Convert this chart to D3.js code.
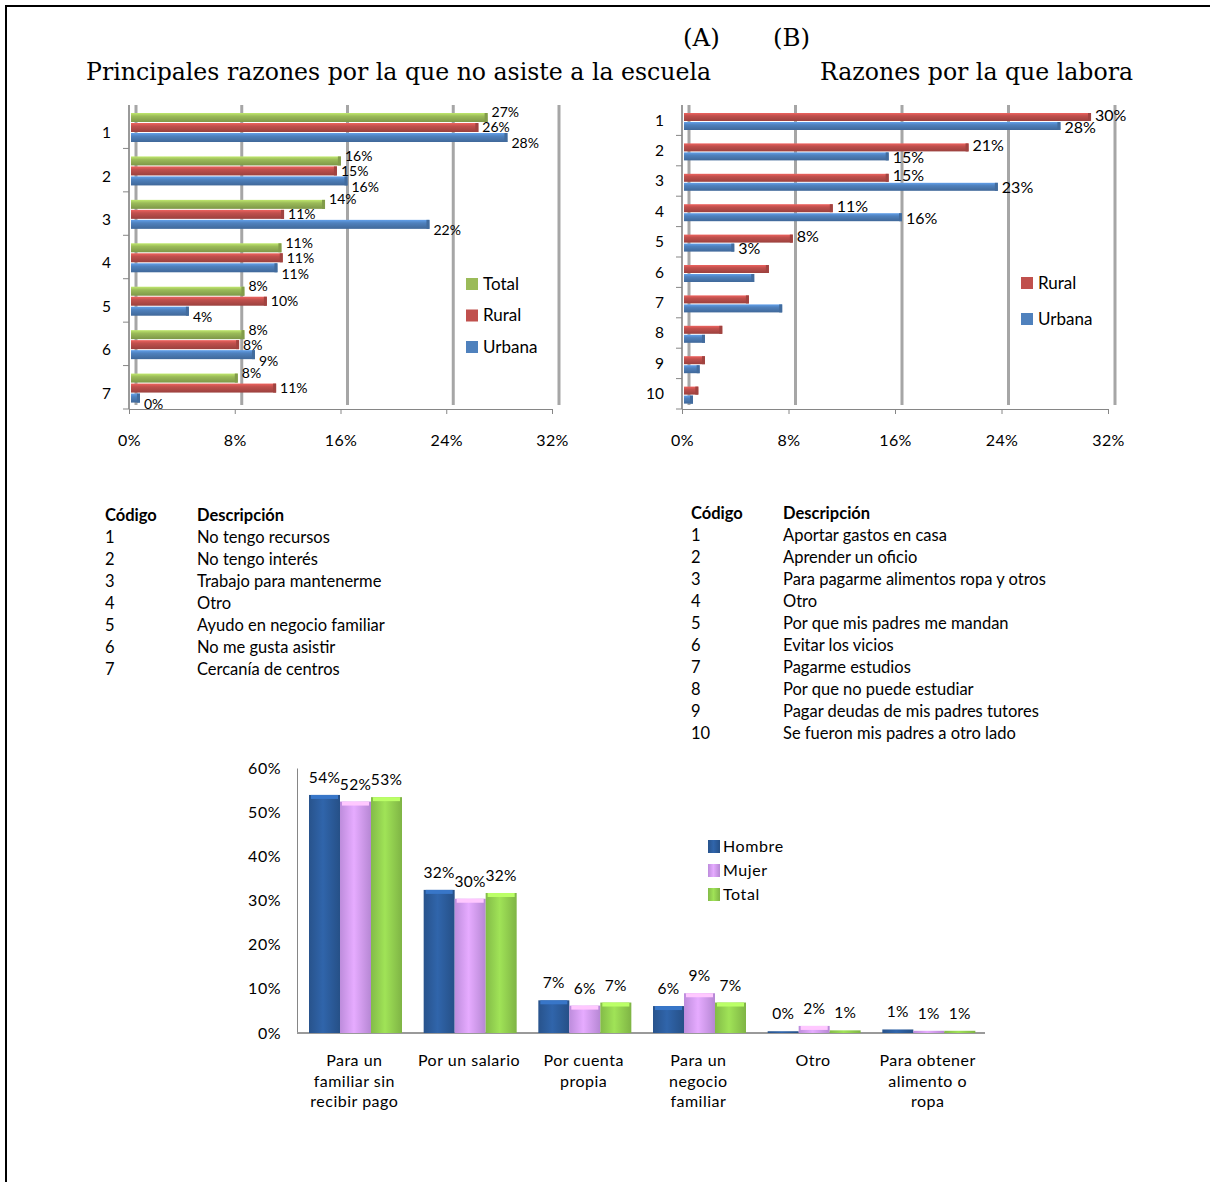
<!DOCTYPE html>
<html>
<head>
<meta charset="utf-8">
<script src="https://cdn.jsdelivr.net/npm/d3@7"></script>
<style>
	body { margin: 0; background: #fff; }
	text { font-family: Lato, "Open Sans", sans-serif; fill: #000; }
	.serif { font-family: "DejaVu Serif", serif; }
</style>
</head>
<body>
<div id="page"></div>
<script>
// chart A: razones por la que no asiste a la escuela
const codesA = ["1", "2", "3", "4", "5", "6", "7"];
const totalA = [26.6, 15.5, 14.3, 11.0, 8.2, 8.2, 7.7];
const ruralA = [25.9, 15.2, 11.2, 11.1, 9.9, 7.8, 10.6];
const urbanaA = [28.1, 16.0, 22.2, 10.7, 4.0, 9.0, 0.3];

// chart B: razones por la que labora
const codesB = ["1", "2", "3", "4", "5", "6", "7", "8", "9", "10"];
const ruralB = [30.2, 21.0, 15.0, 10.8, 7.8, 6.0, 4.5, 2.5, 1.2, 0.7];
const urbanaB = [27.9, 15.0, 23.2, 16.0, 3.4, 4.9, 7.0, 1.2, 0.8, 0.3];
const labeledB = 5;

const pctTicks = [0, 8, 16, 24, 32];

const descA = ["No tengo recursos", "No tengo interés", "Trabajo para mantenerme", "Otro",
	"Ayudo en negocio familiar", "No me gusta asistir", "Cercanía de centros"];
const descB = ["Aportar gastos en casa", "Aprender un oficio", "Para pagarme alimentos ropa y otros",
	"Otro", "Por que mis padres me mandan", "Evitar los vicios", "Pagarme estudios",
	"Por que no puede estudiar", "Pagar deudas de mis padres tutores", "Se fueron mis padres a otro lado"];

// chart C: para quien trabaja
const categoriesC = [
	["Para un", "familiar sin", "recibir pago"],
	["Por un salario"],
	["Por cuenta", "propia"],
	["Para un", "negocio", "familiar"],
	["Otro"],
	["Para obtener", "alimento o", "ropa"],
];
const hombreC = [53.9, 32.4, 7.4, 6.1, 0.4, 0.8];
const mujerC = [52.4, 30.4, 6.2, 9.0, 1.6, 0.5];
const totalC = [53.4, 31.7, 6.9, 6.9, 0.6, 0.5];
const ticksC = [0, 10, 20, 30, 40, 50, 60];

const colors = {
	Total: "#9BBB59", Rural: "#C0504D", Urbana: "#4F81BD",
	Hombre: "#2C5C9C", Mujer: "#D29CF5", TotalC: "#92D050",
};

const svg = d3
	.select("#page")
	.append("svg")
	.attr("width", 1210)
	.attr("height", 1182);

svg.append("rect").attr("width", 1210).attr("height", 1182).attr("fill", "#fff");

// page frame
svg.append("path")
	.attr("d", "M6,1182 V6 H1210")
	.attr("fill", "none")
	.attr("stroke", "#000")
	.attr("stroke-width", 2);

const defs = svg.append("defs");

function hGradient(id, c) {
	const base = d3.color(c);
	const g = defs.append("linearGradient").attr("id", id)
		.attr("x1", 0).attr("y1", 0).attr("x2", 0).attr("y2", 1);
	g.append("stop").attr("offset", "0%").attr("stop-color", base.brighter(0.6));
	g.append("stop").attr("offset", "35%").attr("stop-color", base);
	g.append("stop").attr("offset", "100%").attr("stop-color", base.darker(0.6));
}

function vGradient(id, c) {
	const base = d3.color(c);
	const g = defs.append("linearGradient").attr("id", id)
		.attr("x1", 0).attr("y1", 0).attr("x2", 1).attr("y2", 0);
	g.append("stop").attr("offset", "0%").attr("stop-color", base.darker(0.3));
	g.append("stop").attr("offset", "45%").attr("stop-color", base.brighter(0.25));
	g.append("stop").attr("offset", "100%").attr("stop-color", base.darker(0.4));
}

Object.keys(colors).forEach((k) => {
	hGradient("h-" + k, colors[k]);
	vGradient("v-" + k, colors[k]);
});

// titles
svg.append("text").attr("class", "serif").attr("x", 683).attr("y", 46)
	.style("font-size", "24.5px").text("(A)");
svg.append("text").attr("class", "serif").attr("x", 773).attr("y", 46)
	.style("font-size", "24.5px").text("(B)");
svg.append("text").attr("class", "serif").attr("x", 86).attr("y", 80)
	.style("font-size", "23.6px").text("Principales razones por la que no asiste a la escuela");
svg.append("text").attr("class", "serif").attr("x", 820).attr("y", 80)
	.style("font-size", "23.6px").text("Razones por la que labora");

function hbar_plot(opts) {
	const g = svg.append("g");
	const depth = 7;
	const xF = d3.scaleLinear().domain([0, 32]).range([opts.x0, opts.x1]);
	const xB = d3.scaleLinear().domain([0, 32]).range([opts.x0 + depth, opts.x1 + depth]);
	const y = d3.scaleBand().domain(opts.codes).range([opts.top, opts.bottom]);
	const ys = d3.scaleBand().domain(opts.series.map((s) => s.name))
		.range([opts.inner[0], opts.inner[1]]);

	// back wall gridlines
	g.selectAll(".grid")
		.data(pctTicks)
		.enter()
		.append("line")
		.attr("x1", (d) => xB(d))
		.attr("x2", (d) => xB(d))
		.attr("y1", opts.top)
		.attr("y2", opts.bottom - 4)
		.attr("stroke", "#A6A6A6")
		.attr("stroke-width", 3);

	// front axes
	g.append("g")
		.attr("transform", `translate(0,${opts.bottom})`)
		.call(d3.axisBottom(xF).tickValues(pctTicks).tickSize(5).tickPadding(21)
			.tickFormat((d) => d + "%"))
		.call((a) => a.select(".domain").attr("stroke", "#868686"))
		.call((a) => a.selectAll("line").attr("stroke", "#868686"))
		.selectAll("text")
		.style("font-size", "16px")
		.style("letter-spacing", "0.4px");

	g.append("line")
		.attr("x1", xF(0)).attr("x2", xF(0))
		.attr("y1", opts.top).attr("y2", opts.bottom)
		.attr("stroke", "#9A9A9A").attr("stroke-width", 2);

	g.selectAll(".ytick")
		.data(opts.codes)
		.enter()
		.append("line")
		.attr("x1", xF(0) - 6).attr("x2", xF(0))
		.attr("y1", (d) => y(d) + y.bandwidth())
		.attr("y2", (d) => y(d) + y.bandwidth())
		.attr("stroke", "#868686");

	g.selectAll(".ylab")
		.data(opts.codes)
		.enter()
		.append("text")
		.attr("x", xF(0) - 18)
		.attr("y", (d) => y(d) + y.bandwidth() / 2 + opts.labelShift)
		.attr("dy", "0.35em")
		.attr("text-anchor", "end")
		.style("font-size", "15.5px")
		.text((d) => d);

	opts.series.forEach((s) => {
		const rows = opts.codes.map((c, i) => ({ code: c, v: s.values[i], i: i }));
		const h = ys.bandwidth() - 1;
		const bars = g.append("g");
		bars.selectAll("rect.bar")
			.data(rows)
			.enter()
			.append("rect")
			.attr("x", xF(0) + 2)
			.attr("y", (d) => y(d.code) + ys(s.name))
			.attr("width", (d) => Math.max(2, xB(d.v) - xF(0) - 2))
			.attr("height", h)
			.attr("fill", `url(#h-${s.name})`);
		bars.selectAll("rect.cap")
			.data(rows)
			.enter()
			.append("rect")
			.attr("x", (d) => xB(d.v) - 3)
			.attr("y", (d) => y(d.code) + ys(s.name))
			.attr("width", 3)
			.attr("height", h)
			.attr("fill", d3.color(s.color).darker(0.5));
		bars.selectAll("text")
			.data(rows.filter((d) => d.i < opts.labeled))
			.enter()
			.append("text")
			.attr("x", (d) => xB(d.v) + 4)
			.attr("y", (d) => y(d.code) + ys(s.name) + h / 2 + s.shift)
			.attr("dy", "0.35em")
			.style("font-size", opts.labelSize)
			.text((d) => Math.round(d.v) + "%");
	});

	// legend
	const leg = g.append("g");
	opts.legend.forEach((name, i) => {
		const ly = opts.legendY + i * opts.legendGap;
		leg.append("rect")
			.attr("x", opts.legendX).attr("y", ly - 6)
			.attr("width", 12).attr("height", 12)
			.attr("fill", colors[name]);
		leg.append("text")
			.attr("x", opts.legendX + 17).attr("y", ly)
			.attr("dy", "0.35em")
			.style("font-size", "17px")
			.text(name);
	});
}

hbar_plot({
	codes: codesA,
	series: [
		{ name: "Total", values: totalA, color: colors.Total, shift: -5 },
		{ name: "Rural", values: ruralA, color: colors.Rural, shift: 0 },
		{ name: "Urbana", values: urbanaA, color: colors.Urbana, shift: 6 },
	],
	x0: 129, x1: 552, top: 105, bottom: 409,
	inner: [8, 38], labelShift: 6, labeled: 7, labelSize: "14px",
	legend: ["Total", "Rural", "Urbana"], legendX: 466, legendY: 284, legendGap: 31.5,
});

hbar_plot({
	codes: codesB,
	series: [
		{ name: "Rural", values: ruralB, color: colors.Rural, shift: -2 },
		{ name: "Urbana", values: urbanaB, color: colors.Urbana, shift: 1 },
	],
	x0: 682, x1: 1108, top: 105, bottom: 409,
	inner: [8, 26], labelShift: 0, labeled: labeledB, labelSize: "16px",
	legend: ["Rural", "Urbana"], legendX: 1021, legendY: 283, legendGap: 36,
});

// code tables
function code_table(x, y, desc) {
	const t = svg.append("g").attr("transform", `translate(${x},${y})`);
	t.append("text").attr("x", 0).attr("y", 0).style("font-size", "16.5px")
		.style("font-weight", "bold").text("Código");
	t.append("text").attr("x", 92).attr("y", 0).style("font-size", "16.5px")
		.style("font-weight", "bold").text("Descripción");
	t.selectAll(".row")
		.data(desc)
		.enter()
		.append("g")
		.each(function (d, i) {
			const r = d3.select(this);
			r.append("text").attr("x", 0).attr("y", 22 * (i + 1))
				.style("font-size", "16.5px").text(i + 1);
			r.append("text").attr("x", 92).attr("y", 22 * (i + 1))
				.style("font-size", "16.5px").text(d);
		});
}

code_table(105, 521, descA);
code_table(691, 519, descB);

// chart C: columns
const seriesC = [
	{ name: "Hombre", values: hombreC, fill: "Hombre" },
	{ name: "Mujer", values: mujerC, fill: "Mujer" },
	{ name: "Total", values: totalC, fill: "TotalC" },
];
const gC = svg.append("g");
const xC = d3.scaleBand().domain(d3.range(categoriesC.length)).range([297, 985]);
const xC1 = d3.scaleBand().domain(seriesC.map((s) => s.name)).range([12, 105]);
const yC = d3.scaleLinear().domain([0, 60]).range([1033, 768]);

gC.append("g")
	.attr("transform", "translate(297,0)")
	.call(d3.axisLeft(yC).tickValues(ticksC).tickSize(0).tickPadding(16)
		.tickFormat((d) => d + "%"))
	.call((a) => a.select(".domain").attr("stroke", "#868686"))
	.selectAll("text")
	.style("font-size", "16px")
	.style("letter-spacing", "0.5px");

gC.append("line")
	.attr("x1", 297).attr("x2", 985)
	.attr("y1", yC(0)).attr("y2", yC(0))
	.attr("stroke", "#9A9A9A").attr("stroke-width", 2);

seriesC.forEach((s) => {
	const rows = s.values.map((v, i) => ({ i: i, v: v }));
	const col = gC.append("g");
	col.selectAll("rect.bar")
		.data(rows)
		.enter()
		.append("rect")
		.attr("x", (d) => xC(d.i) + xC1(s.name))
		.attr("y", (d) => yC(d.v))
		.attr("width", xC1.bandwidth())
		.attr("height", (d) => yC(0) - yC(d.v))
		.attr("fill", `url(#v-${s.fill})`);
	col.selectAll("rect.top")
		.data(rows.filter((d) => yC(0) - yC(d.v) > 6))
		.enter()
		.append("rect")
		.attr("x", (d) => xC(d.i) + xC1(s.name) + 2)
		.attr("y", (d) => yC(d.v))
		.attr("width", xC1.bandwidth() - 4)
		.attr("height", 4)
		.attr("fill", d3.color(colors[s.fill]).brighter(0.7));
	col.selectAll("text")
		.data(rows)
		.enter()
		.append("text")
		.attr("x", (d) => xC(d.i) + xC1(s.name) + xC1.bandwidth() / 2)
		.attr("y", (d) => yC(d.v) - 12)
		.attr("text-anchor", "middle")
		.style("font-size", "15.5px")
		.style("letter-spacing", "0.3px")
		.text((d) => Math.round(d.v) + "%");
});

categoriesC.forEach((lines, i) => {
	const t = gC.append("text")
		.attr("x", xC(i) + xC.bandwidth() / 2)
		.attr("y", 1066)
		.attr("text-anchor", "middle")
		.style("font-size", "16px")
		.style("letter-spacing", "0.5px");
	lines.forEach((l, j) => {
		t.append("tspan").attr("x", xC(i) + xC.bandwidth() / 2)
			.attr("dy", j === 0 ? 0 : 20.5).text(l);
	});
});

seriesC.forEach((s, i) => {
	const ly = 846 + i * 24;
	gC.append("rect")
		.attr("x", 708).attr("y", ly - 6)
		.attr("width", 12).attr("height", 13)
		.attr("fill", `url(#v-${s.fill})`);
	gC.append("text")
		.attr("x", 723).attr("y", ly)
		.attr("dy", "0.35em")
		.style("font-size", "16px")
		.style("letter-spacing", "0.6px")
		.text(s.name);
});
</script>
</body>
</html>
